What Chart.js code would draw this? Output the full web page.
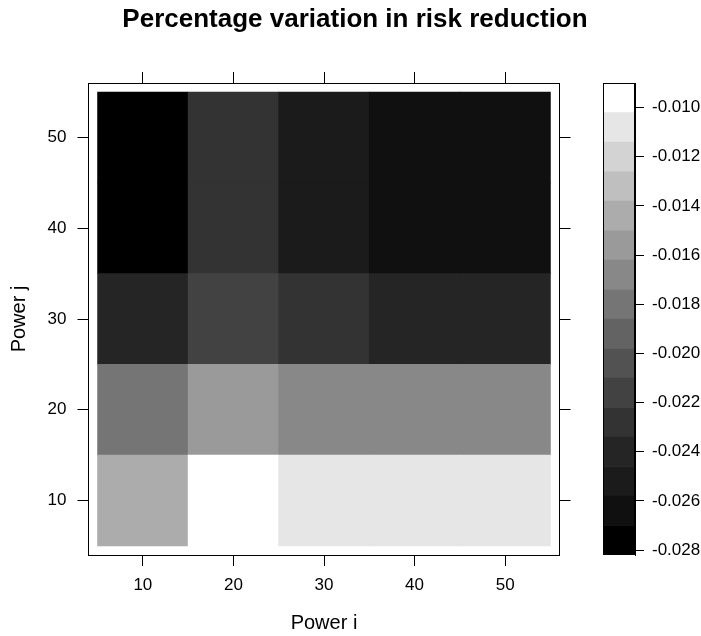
<!DOCTYPE html>
<html>
<head>
<meta charset="utf-8">
<script src="https://cdn.jsdelivr.net/npm/chart.js@4.4.1/dist/chart.umd.min.js"></script>
<style>
  html, body { margin: 0; padding: 0; background: #fff; }
  #wrap { position: relative; width: 701px; height: 636px; }
  #heat { position: absolute; left: 0; top: 0; }
  #key { position: absolute; left: 560px; top: 0; }
</style>
</head>
<body>
<div id="wrap">
  <canvas id="heat" width="701" height="636"></canvas>
  <canvas id="key" width="141" height="636"></canvas>
</div>
<script>
// levelplot-style grid: Power i across, Power j up, 16 grey levels

var powerI = [10, 20, 30, 40, 50];
var powerJ = [10, 20, 30, 40, 50];

// one row per Power j, values left to right over Power i
var rowJ10 = [-0.0144, -0.0090, -0.0108, -0.0107, -0.0108];
var rowJ20 = [-0.0180, -0.0156, -0.0168, -0.0168, -0.0169];
var rowJ30 = [-0.0240, -0.0216, -0.0228, -0.0241, -0.0240];
var rowJ40 = [-0.0282, -0.0228, -0.0252, -0.0264, -0.0265];
var rowJ50 = [-0.0282, -0.0228, -0.0252, -0.0264, -0.0264];

var keyTicks = [-0.010, -0.012, -0.014, -0.016, -0.018, -0.020, -0.022, -0.024, -0.026, -0.028];

var rows = [rowJ10, rowJ20, rowJ30, rowJ40, rowJ50];

// dark -> light, one per colour-key band
var greys = ['#000000', '#101010', '#1b1b1b', '#252525', '#333333', '#424242', '#525252', '#636363',
             '#757575', '#888888', '#9a9a9a', '#acacac', '#bfbfbf', '#d3d3d3', '#e6e6e6', '#ffffff'];

var all = [].concat.apply([], rows);
var zmin = Math.min.apply(null, all);
var zmax = Math.max.apply(null, all);
var step = (zmax - zmin) / greys.length;

function shade(v) {
  var k = Math.floor((v - zmin) / step);
  if (k > greys.length - 1) k = greys.length - 1;
  if (k < 0) k = 0;
  return greys[k];
}

Chart.defaults.font.family = '"Liberation Sans", Arial, sans-serif';
Chart.defaults.color = '#000';

var half = (powerJ[1] - powerJ[0]) / 2;
var lo = powerI[0] - half - 1, hi = powerI[powerI.length - 1] + half + 1;

var heatSets = powerJ.map(function (j, r) {
  return {
    data: powerI.map(function (i) { return { x: i, y: [j - half, j + half] }; }),
    backgroundColor: rows[r].map(shade),
    borderWidth: 0,
    grouped: false,
    categoryPercentage: 1,
    barPercentage: 1
  };
});

function tickAt(list) {
  return function (s) { s.ticks = list.map(function (v) { return { value: v }; }); };
}

// lattice box: ticks outside on every side, no grid inside
function sideAxis(pos, list, size, showLabels) {
  var horiz = pos === 'top' || pos === 'bottom';
  return {
    type: 'linear',
    position: pos,
    min: lo,
    max: hi,
    offset: false,
    afterBuildTicks: tickAt(list),
    afterFit: function (s) { if (horiz) s.height = size; else s.width = size; },
    grid: { offset: false, drawOnChartArea: false, drawTicks: true, tickLength: 11, tickColor: '#000', tickWidth: 1 },
    border: { display: true, color: '#000', width: 1 },
    ticks: { display: showLabels, autoSkip: false, maxRotation: 0, padding: horiz ? 9 : 11, font: { size: 17 } }
  };
}

var xAxis = sideAxis('bottom', powerI, 81, true);
xAxis.title = { display: true, text: 'Power i', font: { size: 20, lineHeight: 1.2 }, padding: { top: 0, bottom: 1 } };
var yAxis = sideAxis('left', powerJ, 79.5, true);
yAxis.title = { display: true, text: 'Power j', font: { size: 20, lineHeight: 1 }, padding: { top: 0, bottom: 0 } };

new Chart(document.getElementById('heat'), {
  type: 'bar',
  data: { datasets: heatSets },
  options: {
    responsive: false,
    animation: false,
    devicePixelRatio: 1,
    layout: { padding: { left: 9, right: 0, top: 0, bottom: 0 } },
    plugins: {
      legend: { display: false },
      title: {
        display: true,
        text: 'Percentage variation in risk reduction',
        font: { size: 26, weight: 'bold', lineHeight: 1.2 },
        padding: { top: 4, bottom: 0 }
      }
    },
    scales: {
      x: xAxis,
      x2: sideAxis('top', powerI, 47.8, false),
      y: yAxis,
      y2: sideAxis('right', powerJ, 141.5, false)
    }
  }
});

// colour key: one floating bar per grey band
var keySets = greys.map(function (g, k) {
  return {
    data: [[zmin + k * step, zmin + (k + 1) * step]],
    backgroundColor: g,
    borderWidth: 0,
    grouped: false,
    categoryPercentage: 1,
    barPercentage: 1
  };
});

var frame = {
  id: 'frame',
  afterDatasetsDraw: function (chart) {
    var a = chart.chartArea, ctx = chart.ctx;
    ctx.save();
    ctx.strokeStyle = '#000';
    ctx.lineWidth = 1;
    ctx.strokeRect(Math.round(a.left) + 0.5, Math.round(a.top) + 0.5,
      Math.round(a.right - a.left) - 1, Math.round(a.bottom - a.top) - 1);
    ctx.restore();
  }
};

new Chart(document.getElementById('key'), {
  type: 'bar',
  data: { labels: [''], datasets: keySets },
  options: {
    responsive: false,
    animation: false,
    devicePixelRatio: 1,
    layout: { padding: { left: 43, right: 0, top: 83, bottom: 81 } },
    plugins: { legend: { display: false }, tooltip: { enabled: false } },
    scales: {
      x: { display: false },
      y: {
        position: 'right',
        min: zmin,
        max: zmax,
        afterBuildTicks: tickAt(keyTicks),
        afterFit: function (s) { s.width = 66; },
        grid: { drawOnChartArea: false, tickLength: 9, tickColor: '#000' },
        border: { display: true, color: '#000' },
        ticks: { padding: 8, font: { size: 17 }, callback: function (v) { return v.toFixed(3); } }
      }
    }
  },
  plugins: [frame]
});
</script>
</body>
</html>
